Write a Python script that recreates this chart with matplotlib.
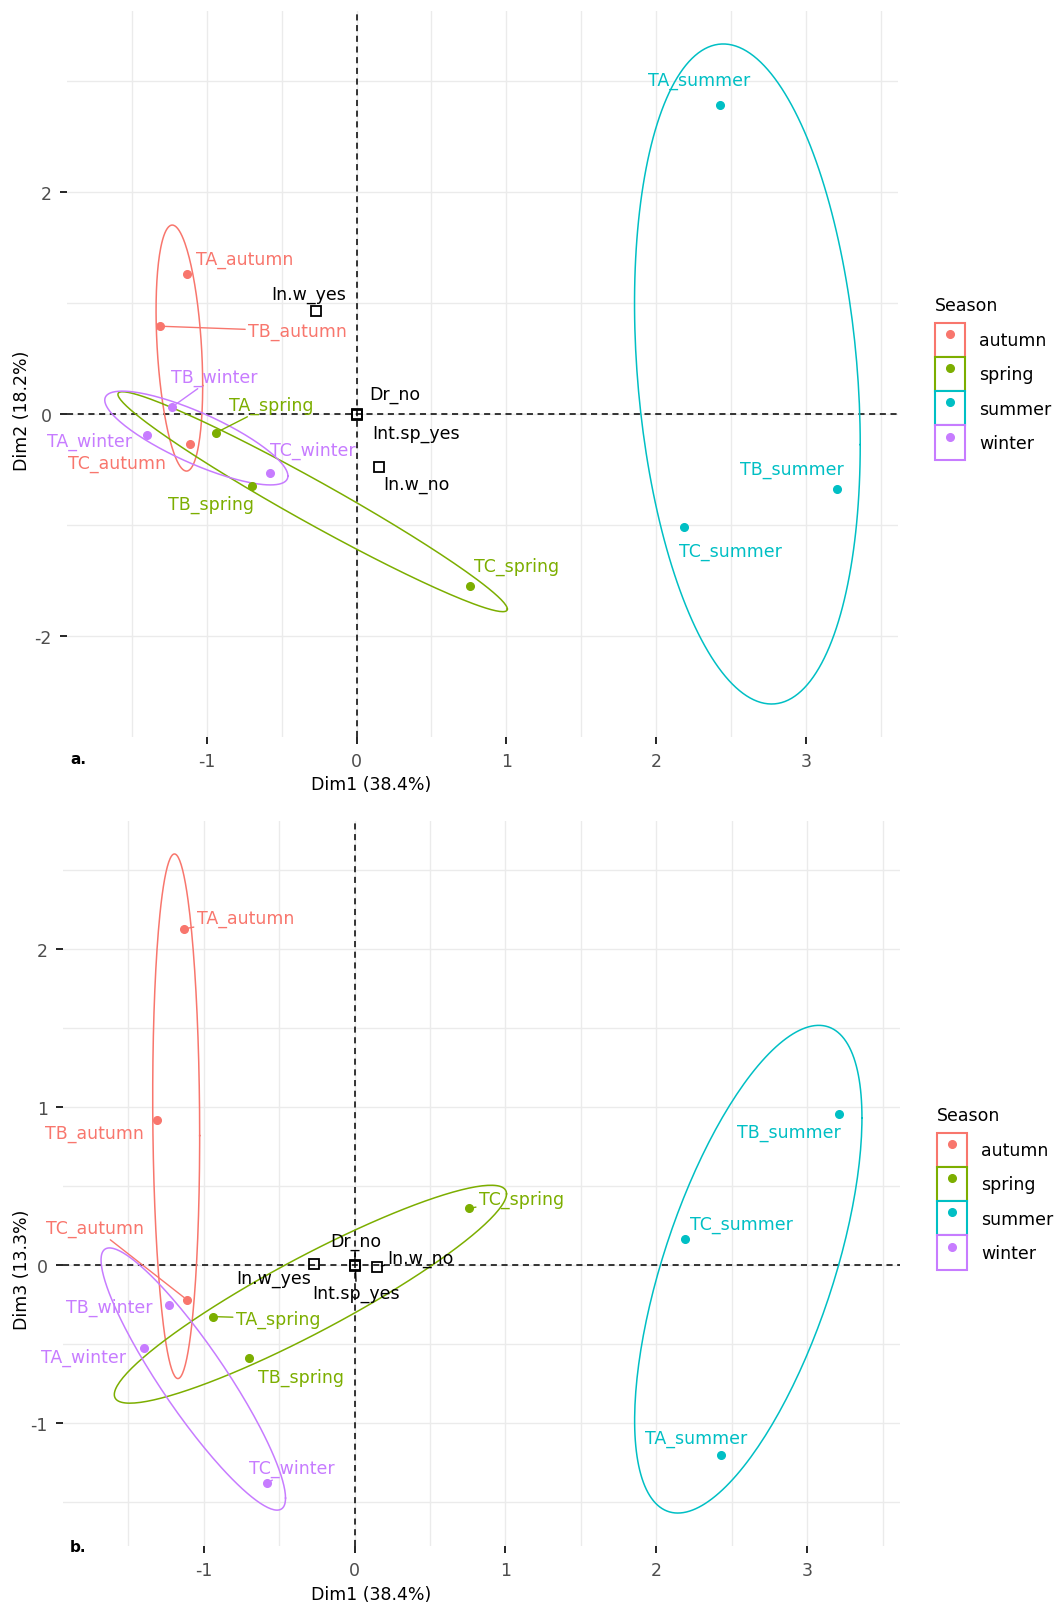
import numpy as np
import matplotlib.pyplot as plt
from matplotlib.lines import Line2D
from matplotlib.patches import Rectangle
from matplotlib.legend_handler import HandlerTuple
from matplotlib.ticker import MultipleLocator

plt.rcParams['font.family'] = ['DejaVu Sans']
plt.rcParams['axes.unicode_minus'] = False

# active categories (MCA) ----------------------------------------------
names = ["TA_autumn", "TB_autumn", "TC_autumn",
         "TA_spring", "TB_spring", "TC_spring",
         "TA_summer", "TB_summer", "TC_summer",
         "TA_winter", "TB_winter", "TC_winter"]
season = ["autumn"] * 3 + ["spring"] * 3 + ["summer"] * 3 + ["winter"] * 3
dim1 = [-1.13, -1.31, -1.11, -0.94, -0.70, 0.76, 2.43, 3.21, 2.19, -1.40, -1.23, -0.58]
dim2 = [1.26, 0.79, -0.27, -0.17, -0.65, -1.55, 2.78, -0.68, -1.02, -0.185, 0.065, -0.53]
dim3 = [2.13, 0.92, -0.22, -0.325, -0.585, 0.36, -1.20, 0.96, 0.165, -0.527, -0.254, -1.38]

# supplementary categories
sup_names = ["In.w_yes", "Dr_no", "Int.sp_yes", "In.w_no"]
sup_dim1 = [-0.27, 0.0, 0.005, 0.15]
sup_dim2 = [0.93, 0.0, -0.01, -0.48]
sup_dim3 = [0.01, 0.0, -0.005, -0.01]

seasons = ["autumn", "spring", "summer", "winter"]
colors = {"autumn": "#F8766D", "spring": "#7CAE00", "summer": "#00BFC4", "winter": "#C77CFF"}

# label offsets in pixels (dx, dy, draw segment)
lab_a = {"TA_summer": (-21, 25, 0), "TB_summer": (-45, 20, 0), "TC_summer": (46, -24, 0),
         "TA_autumn": (57, 15, 0), "TB_autumn": (137, -5, 1), "TC_autumn": (-73, -19, 0),
         "TA_spring": (55, 28, 1), "TB_spring": (-41, -18, 0), "TC_spring": (46, 20, 0),
         "TA_winter": (-57, -6, 0), "TB_winter": (42, 30, 1), "TC_winter": (43, 23, 0),
         "In.w_yes": (-7, 17, 0), "Dr_no": (38, 20, 0), "Int.sp_yes": (59, -18, 0), "In.w_no": (37, -17, 0)}
lab_b = {"TA_summer": (-25, 17, 0), "TB_summer": (-50, -18, 0), "TC_summer": (56, 15, 0),
         "TA_autumn": (61, 11, 1), "TB_autumn": (-63, -13, 0), "TC_autumn": (-92, 72, 1),
         "TA_spring": (65, -2, 1), "TB_spring": (52, -19, 0), "TC_spring": (52, 10, 1),
         "TA_winter": (-60, -8, 0), "TB_winter": (-60, -1, 0), "TC_winter": (25, 15, 1),
         "In.w_yes": (-40, -14, 0), "Dr_no": (1, 24, 1), "Int.sp_yes": (1, -27, 1), "In.w_no": (43, 9, 1)}

FS = 12.5


def conf_ellipse(x, y, level_chi2=-2 * np.log(0.05), npts=200):
    x = np.asarray(x); y = np.asarray(y)
    cov = np.cov(x, y)
    L = np.linalg.cholesky(cov)
    t = np.linspace(0, 2 * np.pi, npts)
    r = np.sqrt(level_chi2 / len(x))
    circ = np.vstack([np.cos(t), np.sin(t)]) * r
    pts = L @ circ
    return x.mean() + pts[0], y.mean() + pts[1]


def panel(ax, dy_vals, sup_dy, labs, ymaj, ymin):
    d1 = np.array(dim1); d2 = np.array(dy_vals)
    for s in seasons:
        idx = [i for i, v in enumerate(season) if v == s]
        ex, ey = conf_ellipse(d1[idx], d2[idx])
        ax.plot(ex, ey, color=colors[s], lw=1.1, zorder=3)
        ax.plot(d1[idx], d2[idx], 'o', color=colors[s], ms=5.5, zorder=4)
        for i in idx:
            dx, dy, seg = labs[names[i]]
            ax.annotate(names[i], (d1[i], d2[i]), xytext=(dx, dy), textcoords='offset pixels',
                        ha='center', va='center', color=colors[s], fontsize=FS, zorder=5,
                        arrowprops=dict(arrowstyle='-', color=colors[s], lw=1,
                                        shrinkA=0, shrinkB=3) if seg else None)
    ax.plot(sup_dim1, sup_dy, 's', mfc='none', mec='black', mew=1.3, ms=7, zorder=4)
    for n, x, y in zip(sup_names, sup_dim1, sup_dy):
        dx, dy, seg = labs[n]
        ax.annotate(n, (x, y), xytext=(dx, dy), textcoords='offset pixels',
                    ha='center', va='center', color='black', fontsize=FS, zorder=5,
                    arrowprops=dict(arrowstyle='-', color='black', lw=1,
                                    shrinkA=0, shrinkB=3) if seg else None)
    ax.margins(0.05)
    ax.axhline(0, color='black', ls=(0, (4, 3)), lw=1.1, zorder=2)
    ax.axvline(0, color='black', ls=(0, (4, 3)), lw=1.1, zorder=2)
    ax.xaxis.set_major_locator(MultipleLocator(1))
    ax.xaxis.set_minor_locator(MultipleLocator(0.5))
    ax.yaxis.set_major_locator(MultipleLocator(ymaj))
    ax.yaxis.set_minor_locator(MultipleLocator(ymin))
    ax.grid(True, which='both', color='#EBEBEB', lw=1.0, zorder=0)
    ax.set_axisbelow(True)
    for sp in ax.spines.values():
        sp.set_visible(False)
    ax.tick_params(which='major', direction='out', length=5, width=1.2, color='black',
                   labelcolor='#4D4D4D', labelsize=12.5, pad=6)
    ax.tick_params(which='minor', length=0)


def add_legend(fig, x, y_title, y_box):
    handles = []
    for s in seasons:
        box = Rectangle((0, 0), 1, 1, facecolor='white', edgecolor=colors[s], lw=1.5)
        dot = Line2D([], [], marker='o', ls='none', color=colors[s], ms=5.5)
        handles.append((box, dot))
    fig.text(x, y_title, "Season", ha='left', va='center', fontsize=FS)
    leg = fig.legend(handles, seasons, loc='upper left', bbox_to_anchor=(x, y_box),
                     frameon=False, fontsize=FS, handlelength=1.75,
                     handleheight=2.65, labelspacing=0.0, handletextpad=0.8,
                     borderpad=0, borderaxespad=0,
                     handler_map={tuple: HandlerTuple(ndivide=1)})
    return leg


W, H = 1060, 1606
fig = plt.figure(figsize=(W / 100, H / 100), dpi=100)

ax1 = fig.add_axes([67 / W, 1 - 738 / H, 831 / W, 726 / H])
panel(ax1, dim2, sup_dim2, lab_a, 2, 1)
ax2 = fig.add_axes([63 / W, 1 - 1547 / H, 837 / W, 725 / H])
panel(ax2, dim3, sup_dim3, lab_b, 1, 0.5)

fig.text(371 / W, 1 - 785 / H, "Dim1 (38.4%)", ha='center', va='center', fontsize=FS)
fig.text(371 / W, 1 - 1595 / H, "Dim1 (38.4%)", ha='center', va='center', fontsize=FS)
fig.text(22 / W, 1 - 411 / H, "Dim2 (18.2%)", rotation=90, ha='center', va='center', fontsize=FS)
fig.text(22 / W, 1 - 1270 / H, "Dim3 (13.3%)", rotation=90, ha='center', va='center', fontsize=FS)
fig.text(78 / W, 1 - 760 / H, "a.", ha='center', va='center', fontsize=11, fontweight='bold')
fig.text(78 / W, 1 - 1548 / H, "b.", ha='center', va='center', fontsize=11, fontweight='bold')

add_legend(fig, 935 / W, 1 - 306 / H, 1 - 324 / H)
add_legend(fig, 937 / W, 1 - 1116 / H, 1 - 1134 / H)

fig.savefig("out.png", dpi=100)
